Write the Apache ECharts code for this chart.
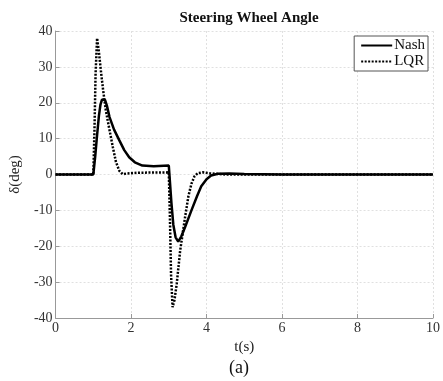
<!DOCTYPE html>
<html>
<head>
<meta charset="utf-8">
<script src="https://cdn.jsdelivr.net/npm/echarts@6/dist/echarts.min.js"></script>
<style>
html,body{margin:0;padding:0;background:#fff;}
#chart{width:443px;height:381px;}
</style>
</head>
<body>
<div id="chart"></div>
<script>
var xTicks = [0, 2, 4, 6, 8, 10];
var yTicks = [-40, -30, -20, -10, 0, 10, 20, 30, 40];

var nashT = [0, 1.0, 1.05, 1.1, 1.15, 1.19, 1.23, 1.27, 1.31, 1.36, 1.43, 1.55, 1.69, 1.82, 1.95, 2.1, 2.3, 2.6, 3.0, 3.03, 3.07, 3.12, 3.18, 3.25, 3.33, 3.43, 3.6, 3.75, 3.86, 4.0, 4.12, 4.3, 4.6, 5.0, 6.0, 10];
var nashV = [0, 0, 5, 11, 16.5, 19.5, 20.9, 21.3, 20.8, 19.2, 16, 12.5, 9.5, 6.8, 4.8, 3.4, 2.5, 2.3, 2.5, -2, -8, -14, -17.5, -18.7, -17.3, -14.7, -10, -6, -3.3, -1.3, -0.3, 0.2, 0.3, 0.15, 0, 0];

var lqrT = [0, 1.0, 1.03, 1.06, 1.1, 1.15, 1.2, 1.26, 1.33, 1.4, 1.52, 1.6, 1.69, 1.78, 1.9, 2.2, 3.0, 3.03, 3.06, 3.1, 3.15, 3.21, 3.3, 3.43, 3.52, 3.6, 3.68, 3.77, 3.9, 4.1, 4.5, 10];
var lqrV = [0, 0, 12, 28, 38, 34, 29, 23.5, 18, 14, 7.5, 3.5, 1, 0.1, 0.3, 0.5, 0.6, -12, -28, -37, -35, -30.5, -21.3, -12, -6, -2.6, -0.5, 0.4, 0.6, 0.3, 0, 0];

function pairs(t, v) { return t.map(function (x, i) { return [x, v[i]]; }); }

var serif = '"Liberation Serif", "Times New Roman", serif';
var chart = echarts.init(document.getElementById('chart'));
chart.setOption({
  animation: false,
  backgroundColor: '#fff',
  title: {
    text: 'Steering Wheel Angle',
    left: 244, top: 6, textAlign: 'center',
    textStyle: { fontFamily: serif, fontSize: 15, fontWeight: 'bold', color: '#111' }
  },
  legend: {
    orient: 'vertical',
    right: 15, top: 36,
    backgroundColor: '#fff',
    borderColor: '#555', borderWidth: 1, borderRadius: 0,
    padding: [2, 3, 2, 6],
    itemGap: 1, itemWidth: 31, itemHeight: 12,
    itemStyle: { opacity: 0 },
    textStyle: { fontFamily: serif, fontSize: 15, color: '#111', padding: [0, 0, 0, -3] },
    data: ['Nash', 'LQR']
  },
  grid: { left: 52, right: 7, top: 31, bottom: 63 },
  xAxis: {
    type: 'value', min: 0, max: 10, interval: 2,
    name: 't(s)', nameLocation: 'middle', nameGap: 21,
    nameTextStyle: { fontFamily: serif, fontSize: 15, color: '#222' },
    axisLine: { onZero: false, lineStyle: { color: '#999', width: 1 } },
    axisTick: { inside: true, length: 4, lineStyle: { color: '#999' } },
    axisLabel: { fontFamily: serif, fontSize: 14, color: '#333', margin: 3,
      formatter: function (v) { return xTicks.indexOf(v) >= 0 ? String(v) : ''; } },
    splitLine: { lineStyle: { color: '#e0e0e0', type: [2, 2] } }
  },
  yAxis: {
    type: 'value', min: -40, max: 40, interval: 10,
    name: 'δ(deg)', nameLocation: 'middle', nameGap: 30, nameRotate: 90,
    nameTextStyle: { fontFamily: serif, fontSize: 15, color: '#222' },
    axisLine: { show: true, onZero: false, lineStyle: { color: '#999', width: 1 } },
    axisTick: { show: true, inside: true, length: 4, lineStyle: { color: '#999' } },
    axisLabel: { fontFamily: serif, fontSize: 14, color: '#333', margin: 3,
      formatter: function (v) { return yTicks.indexOf(v) >= 0 ? String(v) : ''; } },
    splitLine: { lineStyle: { color: '#e0e0e0', type: [2, 2] } }
  },
  graphic: [{
    type: 'text', left: 229, top: 359,
    style: { text: '(a)', font: '18px ' + serif, fill: '#111' }
  }],
  series: [
    { name: 'Nash', type: 'line', symbol: 'none', data: pairs(nashT, nashV),
      lineStyle: { color: '#000', width: 2.5, type: 'solid' }, itemStyle: { color: '#000' }, z: 3 },
    { name: 'LQR', type: 'line', symbol: 'none', data: pairs(lqrT, lqrV),
      lineStyle: { color: '#000', width: 2.5, type: [2, 1.5] }, itemStyle: { color: '#000' }, z: 4 }
  ]
});
</script>
</body>
</html>
